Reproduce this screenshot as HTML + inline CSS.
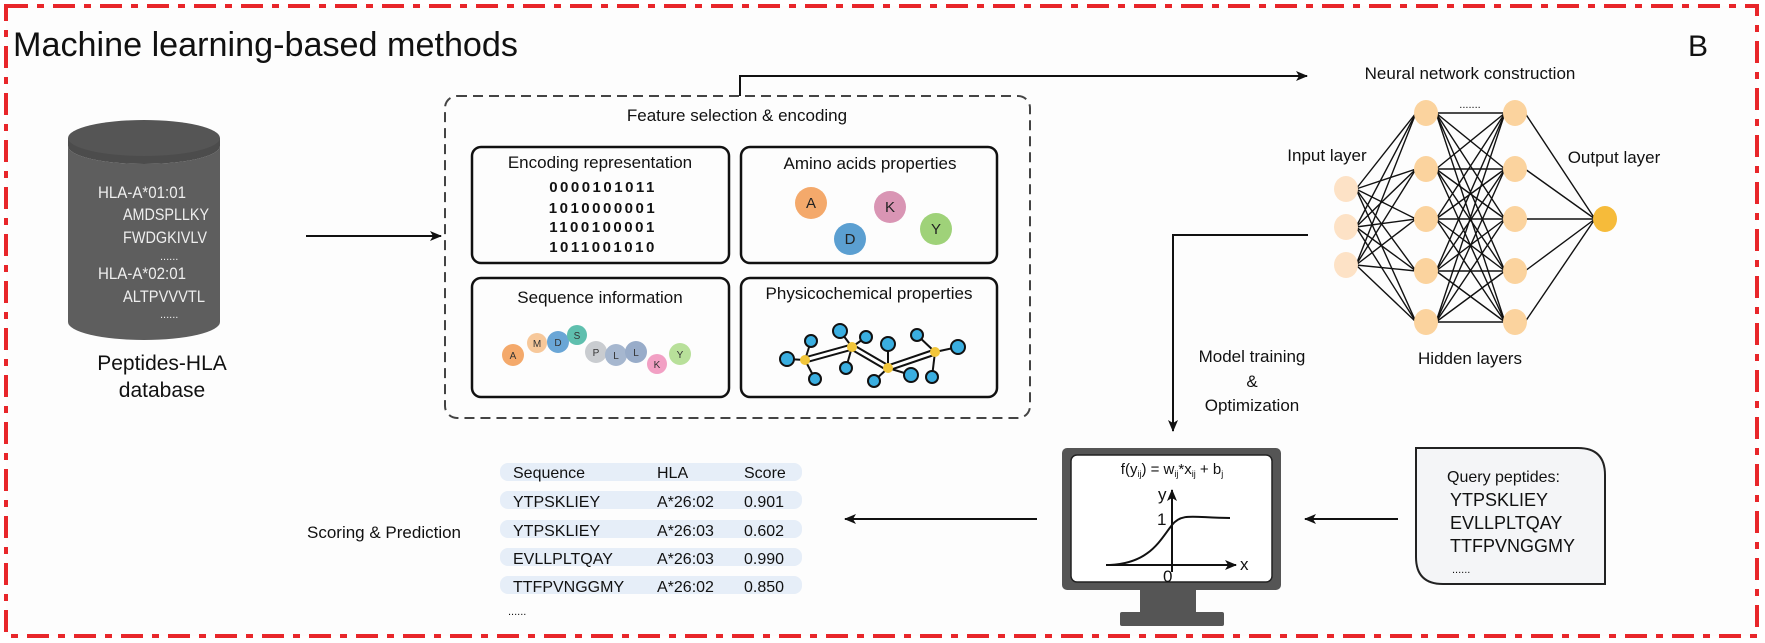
<!DOCTYPE html>
<html><head><meta charset="utf-8"><style>
html,body{margin:0;padding:0;background:#fff;}
svg{display:block;font-family:"Liberation Sans",Arial,sans-serif;}
</style></head><body>
<svg id="s" width="1765" height="643" viewBox="0 0 1765 643" xmlns="http://www.w3.org/2000/svg">
<defs>
<marker id="ah" markerWidth="12" markerHeight="10" refX="11" refY="5" orient="auto" markerUnits="userSpaceOnUse"><path d="M0,0 L12,5 L0,10 L3,5 Z" fill="#111"/></marker>
</defs>
<rect x="0" y="0" width="1765" height="643" fill="#fff"/>
<rect x="6" y="6" width="1751" height="630" fill="#fdfdfd" stroke="#e8262a" stroke-width="4" stroke-dasharray="22,9,7,9"/>
<text x="13" y="56" font-size="34" fill="#111" textLength="505" lengthAdjust="spacingAndGlyphs">Machine learning-based methods</text>
<text x="1688" y="56" font-size="30" fill="#111">B</text>

<!-- cylinder -->
<path d="M68,146 L68,322 A76,18 0 0 0 220,322 L220,146 Z" fill="#5e5e5e"/>
<ellipse cx="144" cy="146" rx="76" ry="18" fill="#fff"/>
<path d="M68,138 L68,146 A76,18 0 0 0 220,146 L220,138 Z" fill="#4c4c4c"/>
<ellipse cx="144" cy="138" rx="76" ry="18" fill="#555"/>
<g fill="#eee" font-size="17">
<text x="98" y="198" textLength="88" lengthAdjust="spacingAndGlyphs">HLA-A*01:01</text>
<text x="123" y="220" textLength="86" lengthAdjust="spacingAndGlyphs">AMDSPLLKY</text>
<text x="123" y="243" textLength="84" lengthAdjust="spacingAndGlyphs">FWDGKIVLV</text>
<text x="160" y="260" font-size="11">......</text>
<text x="98" y="279" textLength="88" lengthAdjust="spacingAndGlyphs">HLA-A*02:01</text>
<text x="123" y="302" textLength="82" lengthAdjust="spacingAndGlyphs">ALTPVVVTL</text>
<text x="160" y="318" font-size="11">......</text>
</g>
<text x="162" y="370" font-size="21" text-anchor="middle" fill="#111">Peptides-HLA</text>
<text x="162" y="397" font-size="21" text-anchor="middle" fill="#111">database</text>

<line x1="306" y1="236" x2="441" y2="236" stroke="#111" stroke-width="2" marker-end="url(#ah)"/>

<!-- feature box -->
<rect x="445" y="96" width="585" height="322" rx="12" fill="none" stroke="#444" stroke-width="2" stroke-dasharray="10,6"/>
<text x="737" y="121" font-size="17" text-anchor="middle" fill="#111">Feature selection &amp; encoding</text>
<g fill="none" stroke="#111" stroke-width="2.5">
<rect x="472" y="147" width="257" height="116" rx="9"/>
<rect x="741" y="147" width="256" height="116" rx="9"/>
<rect x="472" y="278" width="257" height="119" rx="9"/>
<rect x="741" y="278" width="256" height="119" rx="9"/>
</g>
<text x="600" y="168" font-size="17" text-anchor="middle" fill="#111">Encoding representation</text>
<g font-size="15" text-anchor="middle" fill="#111" letter-spacing="2.5" font-weight="bold">
<text x="603" y="192">0000101011</text>
<text x="603" y="213">1010000001</text>
<text x="603" y="232">1100100001</text>
<text x="603" y="252">1011001010</text>
</g>
<text x="870" y="169" font-size="17" text-anchor="middle" fill="#111">Amino acids properties</text>
<g font-size="15" text-anchor="middle" fill="#222">
<circle cx="811" cy="203" r="16" fill="#f4a96b"/><text x="811" y="208">A</text>
<circle cx="890" cy="207" r="16" fill="#d995b4"/><text x="890" y="212">K</text>
<circle cx="850" cy="239" r="16" fill="#5b9fd1"/><text x="850" y="244">D</text>
<circle cx="936" cy="229" r="16" fill="#9fd279"/><text x="936" y="234">Y</text>
</g>
<text x="600" y="303" font-size="17" text-anchor="middle" fill="#111">Sequence information</text>
<g font-size="10" text-anchor="middle" fill="#333">
<circle cx="513" cy="355" r="11" fill="#f4a96b"/><text x="513" y="359">A</text>
<circle cx="537" cy="343" r="10" fill="#f7c89a"/><text x="537" y="347">M</text>
<circle cx="558" cy="342" r="11" fill="#6aa6d6"/><text x="558" y="346">D</text>
<circle cx="577" cy="335" r="10" fill="#5fbfae"/><text x="577" y="339">S</text>
<circle cx="596" cy="352" r="11" fill="#c9ccd0"/><text x="596" y="356">P</text>
<circle cx="616" cy="355" r="11" fill="#a6b7cf"/><text x="616" y="359">L</text>
<circle cx="636" cy="352" r="11" fill="#98acc9"/><text x="636" y="356">L</text>
<circle cx="657" cy="364" r="10" fill="#f2a0c4"/><text x="657" y="368">K</text>
<circle cx="680" cy="354" r="11" fill="#b8e09a"/><text x="680" y="358">Y</text>
</g>
<text x="869" y="299" font-size="17" text-anchor="middle" fill="#111">Physicochemical properties</text>
<!-- molecule -->
<g stroke="#111" stroke-width="2">
<path d="M805,360 L852,347 M852,347 L888,368 M888,368 L935,352" stroke="#111" stroke-width="7"/>
<path d="M805,360 L852,347 M852,347 L888,368 M888,368 L935,352" stroke="#fff" stroke-width="3"/>
<line x1="805" y1="360" x2="787" y2="359"/><line x1="805" y1="360" x2="811" y2="341"/><line x1="805" y1="360" x2="815" y2="379"/>
<line x1="852" y1="347" x2="840" y2="331"/><line x1="852" y1="347" x2="866" y2="337"/><line x1="852" y1="347" x2="846" y2="368"/>
<line x1="888" y1="368" x2="888" y2="344"/><line x1="888" y1="368" x2="874" y2="381"/><line x1="888" y1="368" x2="911" y2="375"/>
<line x1="935" y1="352" x2="917" y2="335"/><line x1="935" y1="352" x2="958" y2="347"/><line x1="935" y1="352" x2="932" y2="377"/>
</g>
<g fill="#3aaee0" stroke="#111" stroke-width="2">
<circle cx="787" cy="359" r="7"/><circle cx="811" cy="341" r="6"/><circle cx="815" cy="379" r="6"/>
<circle cx="840" cy="331" r="7"/><circle cx="866" cy="337" r="6"/><circle cx="846" cy="368" r="6"/>
<circle cx="888" cy="344" r="7"/><circle cx="874" cy="381" r="6"/><circle cx="911" cy="375" r="7"/>
<circle cx="917" cy="335" r="6"/><circle cx="958" cy="347" r="7"/><circle cx="932" cy="377" r="6"/>
</g>
<g fill="#f2c63a"><circle cx="805" cy="360" r="5"/><circle cx="852" cy="347" r="5"/><circle cx="888" cy="368" r="5"/><circle cx="935" cy="352" r="5"/></g>

<!-- connector to NN -->
<polyline points="740,96 740,76 1307,76" fill="none" stroke="#111" stroke-width="2" marker-end="url(#ah)"/>
<text x="1470" y="79" font-size="17" text-anchor="middle" fill="#111">Neural network construction</text>
<text x="1470" y="108" font-size="11" text-anchor="middle" fill="#111">.......</text>
<g id="nn" stroke="#111" stroke-width="1.4"></g>
<g id="nodes"></g>
<text x="1327" y="161" font-size="17" text-anchor="middle" fill="#111">Input layer</text>
<text x="1614" y="163" font-size="17" text-anchor="middle" fill="#111">Output layer</text>
<text x="1470" y="364" font-size="17" text-anchor="middle" fill="#111">Hidden layers</text>

<!-- training connector -->
<polyline points="1308,235 1173,235 1173,431" fill="none" stroke="#111" stroke-width="2" marker-end="url(#ah)"/>
<g font-size="17" text-anchor="middle" fill="#111">
<text x="1252" y="362">Model training</text>
<text x="1252" y="387">&amp;</text>
<text x="1252" y="411">Optimization</text>
</g>

<!-- monitor -->
<rect x="1062" y="448" width="219" height="142" rx="5" fill="#555"/>
<rect x="1071" y="455" width="201" height="127" rx="6" fill="#fff" stroke="#222" stroke-width="1.5"/>
<rect x="1140" y="590" width="56" height="24" fill="#555"/>
<rect x="1120" y="612" width="104" height="14" rx="2" fill="#555"/>
<text x="1172" y="474" font-size="15" text-anchor="middle" fill="#111">f(y<tspan font-size="9" dy="3">ij</tspan><tspan dy="-3">) = w</tspan><tspan font-size="9" dy="3">ij</tspan><tspan dy="-3">*x</tspan><tspan font-size="9" dy="3">ij</tspan><tspan dy="-3"> + b</tspan><tspan font-size="9" dy="3">j</tspan></text>
<line x1="1106" y1="565" x2="1236" y2="565" stroke="#111" stroke-width="2" marker-end="url(#ah)"/>
<line x1="1172" y1="572" x2="1172" y2="490" stroke="#111" stroke-width="2" marker-end="url(#ah)"/>
<path d="M1110,565 C1150,563 1160,540 1172,525 C1182,512 1195,518 1230,518" fill="none" stroke="#111" stroke-width="2"/>
<g font-size="17" fill="#111">
<text x="1158" y="500">y</text><text x="1157" y="525">1</text><text x="1163" y="582">0</text><text x="1240" y="570">x</text>
</g>

<!-- query -->
<path d="M1416,448 L1578,448 Q1605,448 1605,475 L1605,584 L1443,584 Q1416,584 1416,557 Z" fill="#f4f5f7" stroke="#222" stroke-width="2"/>
<g font-size="16" fill="#111">
<text x="1447" y="482">Query peptides:</text>
<text x="1450" y="506" font-size="18">YTPSKLIEY</text>
<text x="1450" y="529" font-size="18">EVLLPLTQAY</text>
<text x="1450" y="552" font-size="18">TTFPVNGGMY</text>
<text x="1452" y="573" font-size="11">......</text>
</g>
<line x1="1398" y1="519" x2="1305" y2="519" stroke="#111" stroke-width="2" marker-end="url(#ah)"/>
<line x1="1037" y1="519" x2="845" y2="519" stroke="#111" stroke-width="2" marker-end="url(#ah)"/>

<!-- table -->
<text x="384" y="538" font-size="17" text-anchor="middle" fill="#111">Scoring &amp; Prediction</text>
<g fill="#e6eef8">
<rect x="500" y="463" width="302" height="18" rx="8"/>
<rect x="500" y="491" width="302" height="18" rx="8"/>
<rect x="500" y="520" width="302" height="18" rx="8"/>
<rect x="500" y="548" width="302" height="18" rx="8"/>
<rect x="500" y="576" width="302" height="18" rx="8"/>
</g>
<g font-size="16" fill="#111">
<text x="513" y="478">Sequence</text><text x="657" y="478">HLA</text><text x="744" y="478">Score</text>
<text x="513" y="507">YTPSKLIEY</text><text x="657" y="507">A*26:02</text><text x="744" y="507">0.901</text>
<text x="513" y="536">YTPSKLIEY</text><text x="657" y="536">A*26:03</text><text x="744" y="536">0.602</text>
<text x="513" y="564">EVLLPLTQAY</text><text x="657" y="564">A*26:03</text><text x="744" y="564">0.990</text>
<text x="513" y="592">TTFPVNGGMY</text><text x="657" y="592">A*26:02</text><text x="744" y="592">0.850</text>
<text x="508" y="615" font-size="11">......</text>
</g>
</svg>
<script>
(function(){
var NS="http://www.w3.org/2000/svg";
var inp=[[1346,189],[1346,227],[1346,265]];
var hy=[113,169,219,271,322];
var h1=hy.map(function(y){return[1426,y]}),h2=hy.map(function(y){return[1515,y]});
var out=[[1605,219]];
var g=document.getElementById("nn"),n=document.getElementById("nodes");
function L(a,b){a.forEach(function(p){b.forEach(function(q){var l=document.createElementNS(NS,"line");l.setAttribute("x1",p[0]+10);l.setAttribute("y1",p[1]);l.setAttribute("x2",q[0]-10);l.setAttribute("y2",q[1]);g.appendChild(l);});});}
L(inp,h1);L(h1,h2);L(h2,out);
function C(a,f){a.forEach(function(p){var c=document.createElementNS(NS,"ellipse");c.setAttribute("cx",p[0]);c.setAttribute("cy",p[1]);c.setAttribute("rx",12);c.setAttribute("ry",13);c.setAttribute("fill",f);n.appendChild(c);});}
C(inp,"#fde2c6");C(h1,"#fbd39e");C(h2,"#fbd39e");C(out,"#f6bb3a");
})();
</script>
</body></html>
